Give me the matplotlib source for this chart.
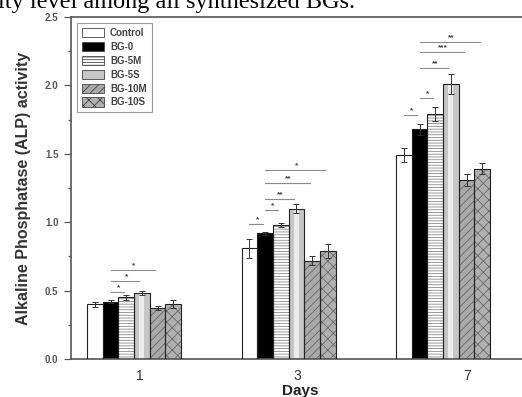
import matplotlib
matplotlib.use("Agg")
import matplotlib.pyplot as plt
from matplotlib.patches import Patch
import numpy as np

plt.rcParams["font.family"] = ["Liberation Sans", "DejaVu Sans"]
plt.rcParams["hatch.linewidth"] = 0.6

# ── data ──────────────────────────────────────────────────────────
days = ["1", "3", "7"]
groups = ["Control", "BG-0", "BG-5M", "BG-5S", "BG-10M", "BG-10S"]
alp_mean = {
    "Control": [0.40, 0.81, 1.49],
    "BG-0":    [0.42, 0.92, 1.68],
    "BG-5M":   [0.45, 0.98, 1.79],
    "BG-5S":   [0.48, 1.10, 2.01],
    "BG-10M":  [0.37, 0.72, 1.31],
    "BG-10S":  [0.40, 0.79, 1.39],
}
alp_err = {
    "Control": [0.02, 0.07, 0.05],
    "BG-0":    [0.01, 0.01, 0.04],
    "BG-5M":   [0.02, 0.015, 0.05],
    "BG-5S":   [0.015, 0.03, 0.07],
    "BG-10M":  [0.015, 0.03, 0.045],
    "BG-10S":  [0.03, 0.05, 0.04],
}
# significance brackets: day index, bar a, bar b, height, stars
sig_day  = [0, 0, 0, 1, 1, 1, 1, 1, 2, 2, 2, 2, 2]
sig_a    = [1, 1, 1, 0, 1, 1, 1, 1, 0, 1, 1, 1, 1]
sig_b    = [2, 3, 4, 1, 2, 3, 4, 5, 1, 2, 3, 4, 5]
sig_y    = [0.49, 0.57, 0.65, 0.99, 1.09, 1.17, 1.29, 1.385, 1.786, 1.906, 2.127, 2.245, 2.32]
sig_txt  = ["*", "*", "*", "*", "*", "**", "**", "*", "*", "*", "**", "***", "**"]

# bar styles: face, hatch, hatch colour
styles = {
    "Control": ("white", "", "black"),
    "BG-0":    ("black", "", "black"),
    "BG-5M":   ("white", "------", "#8a8a8a"),
    "BG-5S":   ("#c6c6c6", "", "black"),
    "BG-10M":  ("#a9a9a9", "////", "#666666"),
    "BG-10S":  ("#b0b0b0", "xxx", "#6a6a6a"),
}

# ── figure ─────────────────────────────────────────────────────────
fig = plt.figure(figsize=(5.22, 3.97), dpi=100)
fig.text(-0.003, 1 - 8 / 397, "ity level among all synthesized BGs.",
         family="Liberation Serif", fontsize=17.5, va="baseline", ha="left")

ax = fig.add_axes([71 / 522, 38 / 397, (530 - 71) / 522, 342 / 397])
x = np.arange(len(days))
w = 1 / 9.86

for i, g in enumerate(groups):
    face, hatch, hc = styles[g]
    pos = x + (i - 2.5) * w
    ax.bar(pos, alp_mean[g], w, color=face, hatch=hatch, edgecolor=hc, lw=0, zorder=2)
    if g == "BG-5S":
        ax.bar(pos, alp_mean[g], w * 0.3, color="#ececec", lw=0, zorder=2.1)
    ax.bar(pos, alp_mean[g], w, fill=False, edgecolor="#222222", lw=0.8, zorder=3)
    ax.errorbar(pos, alp_mean[g], yerr=alp_err[g], fmt="none", ecolor="#333333",
                elinewidth=0.7, capsize=2, capthick=0.7, zorder=4)

for d, a, b, y, t in zip(sig_day, sig_a, sig_b, sig_y, sig_txt):
    xa = x[d] + (a - 2.5) * w
    xb = x[d] + (b - 2.5) * w
    ax.plot([xa, xb - 0.15 * w], [y, y], color="#8c8c8c", lw=0.8, zorder=4)
    ax.text((xa + xb) / 2, y + 0.005, t, ha="center", va="bottom", fontsize=6,
            fontweight="bold", color="#444444")

ax.set_xlim(-0.4078, 2.563)
ax.set_ylim(0, 2.5)
ax.set_xticks([0.04, 1.055, 2.155])
ax.set_xticklabels(days, fontsize=10, color="#333333")
ax.tick_params(axis="x", length=0, pad=7)
ax.set_yticks(np.arange(0, 2.51, 0.5))
ax.set_yticks(np.arange(0.25, 2.5, 0.5), minor=True)
ax.set_yticklabels([f"{v:.1f}" for v in np.arange(0, 2.51, 0.5)],
                   fontsize=7, color="#555555", fontweight="bold")
ax.tick_params(axis="y", which="major", length=5, width=0.9, color="#555555", pad=4)
ax.tick_params(axis="y", which="minor", length=2.5, width=0.9, color="#555555")
for s in ["left", "top", "bottom", "right"]:
    ax.spines[s].set_color("#555555")
    ax.spines[s].set_linewidth(1.2)

ax.set_xlabel("Days", fontsize=11, fontweight="bold", color="#222222", labelpad=1)
ax.set_ylabel("Alkaline Phosphatase (ALP) activity", fontsize=11.5, fontweight="bold",
              color="#333333", labelpad=10)

handles = [Patch(facecolor=styles[g][0], hatch=styles[g][1], edgecolor="#444444", lw=0.6)
           for g in groups]
leg = ax.legend(handles, groups, loc="upper left", bbox_to_anchor=(0.013, 0.982),
                prop={"size": 7, "weight": "bold"}, handlelength=2.3, handleheight=1.1,
                labelspacing=0.4, borderpad=0.5, handletextpad=0.6, borderaxespad=0,
                fancybox=False, framealpha=1)
leg.get_frame().set_edgecolor("#9a9a9a")
leg.get_frame().set_linewidth(0.8)
for t in leg.get_texts():
    t.set_color("#444444")

fig.savefig("out.png", dpi=100)
